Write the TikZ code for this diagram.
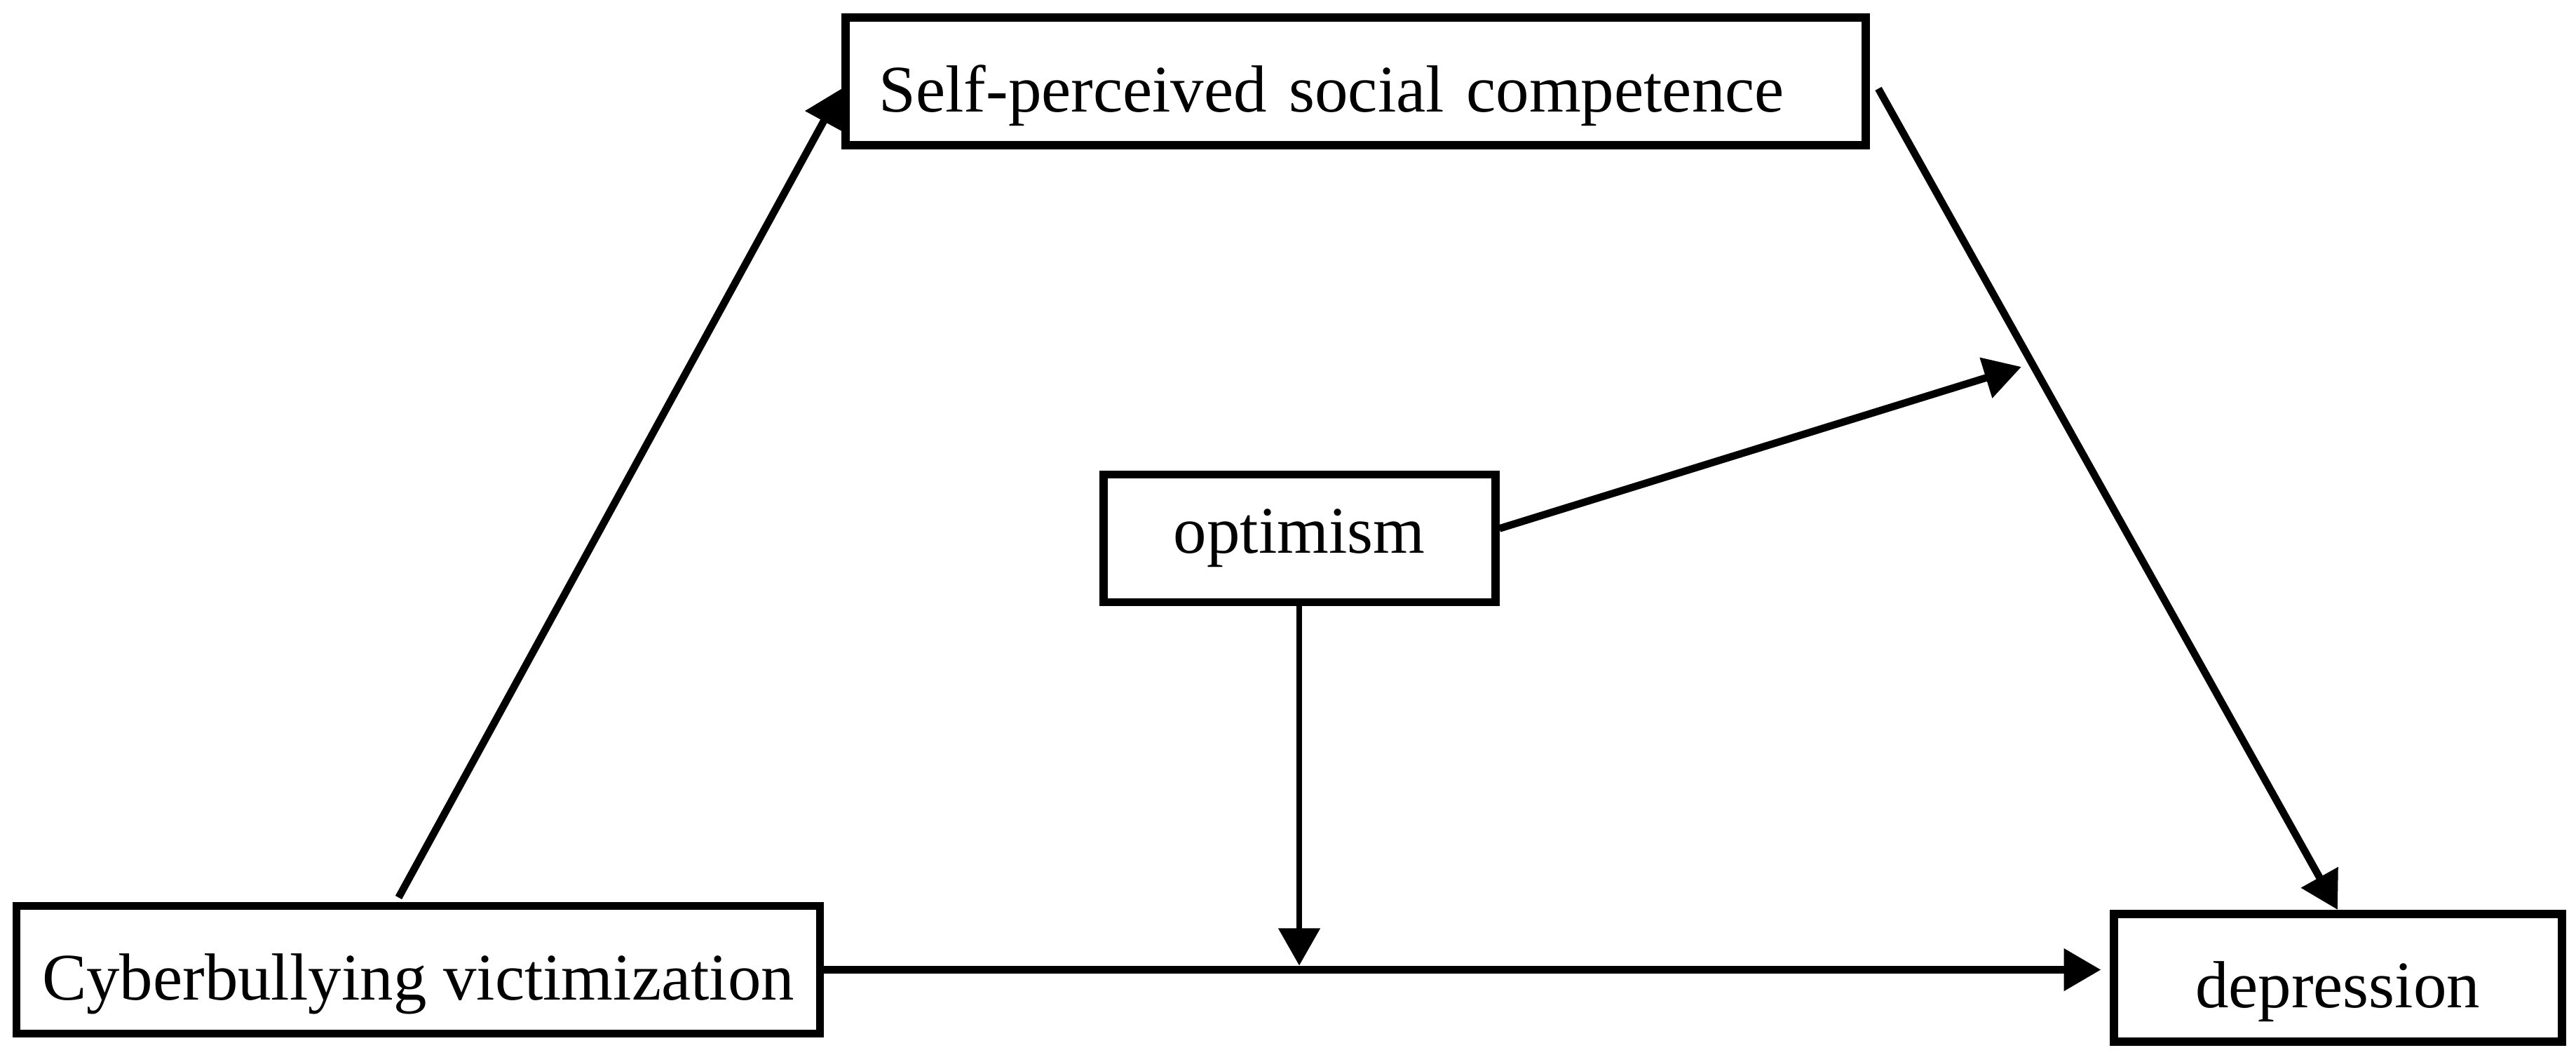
\documentclass[tikz,border=0pt]{standalone}
\usepackage{fontspec}
\setmainfont{Liberation Serif}
\usetikzlibrary{arrows.meta,calc}

\begin{document}
\begin{tikzpicture}[
    box/.style={rectangle, draw, line width=1.7pt, minimum height=0.91cm, inner ysep=0pt,
                text height=0.53cm, text depth=0.1cm, font=\fontsize{13.5}{16}\selectfont},
    arrow/.style={-{Triangle[length=0.265cm, width=0.29cm]}, line width=1.5pt}
]
\useasboundingbox (0,0) rectangle (18.37,7.57);

% Variables
\node[box, text width=6.8cm, inner xsep=0.237cm, align=left] (self) at (9.668, 6.988) {Self-perceived social competence};
\node[box, minimum width=2.795cm, text height=0.31cm] (optim) at (9.265, 3.7325) {optimism};
\node[box, minimum width=5.73cm] (cyber) at (2.9825, 0.6575) {Cyberbullying victimization};
\node[box, minimum width=3.195cm] (dep) at (16.67, 0.60) {depression};

% Point on the b path
\coordinate (bpath) at (14.415, 4.955);

% Paths
\draw[arrow] ([xshift=-0.14cm, yshift=0.03cm]cyber.north) -- ([yshift=-0.05cm]self.west);
\draw[arrow] ([xshift=0.06cm, yshift=-0.05cm]self.east) -- (dep.north);
\draw[arrow, line width=1.6pt, shorten >=0.06cm] (cyber.east) -- (cyber.east -| dep.west);
\draw[arrow] ([yshift=0.07cm]optim.east) -- (bpath);
\draw[arrow, line width=1.1pt, shorten >=0.03cm] (optim.south) -- (optim.south |- cyber.east);

\end{tikzpicture}
\end{document}
